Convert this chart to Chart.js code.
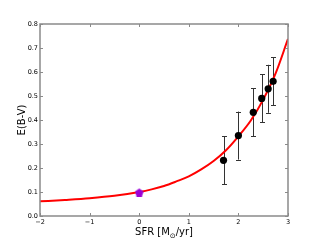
<!DOCTYPE html>
<html>
<head>
<meta charset="utf-8">
<script src="https://cdn.jsdelivr.net/npm/chart.js@4"></script>
<style>
  html, body { margin: 0; padding: 0; background: #fff; }
  #wrap { width: 320px; height: 240px; }
</style>
</head>
<body>
<div id="wrap"><canvas id="chart" width="320" height="240"></canvas></div>
<script>
// measured points
const sfr = [1.70, 2.00, 2.30, 2.47, 2.60, 2.70];
const ebv = [0.232, 0.335, 0.432, 0.490, 0.530, 0.561];
const ebvErr = [0.10, 0.10, 0.10, 0.10, 0.10, 0.10];

// reference point
const refSfr = [0.0];
const refEbv = [0.10];

// red curve
const curveSfr = [-2.0, -1.5, -1.0, -0.5, 0.0, 0.25, 0.5, 0.75, 1.0, 1.25, 1.5, 1.75, 2.0, 2.25, 2.5, 2.75, 3.0];
const curveEbv = [0.061, 0.067, 0.074, 0.084, 0.100, 0.111, 0.125, 0.144, 0.165, 0.194, 0.229, 0.274, 0.332, 0.398, 0.485, 0.594, 0.738];

const xTicks = [-2, -1, 0, 1, 2, 3];
const yTicks = [0.0, 0.1, 0.2, 0.3, 0.4, 0.5, 0.6, 0.7, 0.8];

const xTitle = ['SFR [M', '\u2299', '/yr]'];
const yTitle = 'E(B-V)';
const FONT = '"DejaVu Sans", sans-serif';

// pentagon marker for the reference point
function pentagon(size, color) {
  const c = document.createElement('canvas');
  c.width = size; c.height = size;
  const g = c.getContext('2d');
  const r = size / 2;
  g.beginPath();
  for (let i = 0; i < 5; i++) {
    const a = -Math.PI / 2 + i * 2 * Math.PI / 5;
    const px = r + r * Math.cos(a), py = r + 1 + r * Math.sin(a);
    i ? g.lineTo(px, py) : g.moveTo(px, py);
  }
  g.closePath();
  g.fillStyle = color;
  g.fill();
  return c;
}

const frame = {
  id: 'frame',
  beforeDatasetsDraw(chart) {
    // error bars under the markers
    const { ctx, scales: { x, y } } = chart;
    ctx.save();
    ctx.strokeStyle = '#333';
    ctx.lineWidth = 1;
    sfr.forEach((v, i) => {
      const px = Math.round(x.getPixelForValue(v)) + 0.5;
      const lo = y.getPixelForValue(ebv[i] - ebvErr[i]);
      const hi = y.getPixelForValue(ebv[i] + ebvErr[i]);
      ctx.beginPath();
      ctx.moveTo(px, lo); ctx.lineTo(px, hi);
      ctx.moveTo(px - 2.5, Math.round(lo) + 0.5); ctx.lineTo(px + 2.5, Math.round(lo) + 0.5);
      ctx.moveTo(px - 2.5, Math.round(hi) + 0.5); ctx.lineTo(px + 2.5, Math.round(hi) + 0.5);
      ctx.stroke();
    });
    ctx.restore();
  },
  afterDraw(chart) {
    const { ctx, chartArea: a, scales: { x, y } } = chart;
    ctx.save();
    ctx.strokeStyle = '#8a8a8a';
    ctx.lineWidth = 1;
    // ticks pointing inward on all four sides
    ctx.beginPath();
    xTicks.forEach(v => {
      const px = Math.round(x.getPixelForValue(v)) + 0.5;
      ctx.moveTo(px, a.bottom); ctx.lineTo(px, a.bottom - 3);
      ctx.moveTo(px, a.top); ctx.lineTo(px, a.top + 3);
    });
    yTicks.forEach(v => {
      const py = Math.round(y.getPixelForValue(v)) + 0.5;
      ctx.moveTo(a.left, py); ctx.lineTo(a.left + 3, py);
      ctx.moveTo(a.right, py); ctx.lineTo(a.right - 3, py);
    });
    ctx.stroke();
    ctx.lineWidth = 1.5;
    ctx.strokeRect(a.left, a.top, a.right - a.left, a.bottom - a.top);

    // axis titles
    ctx.fillStyle = '#000';
    ctx.font = '10px ' + FONT;
    const w0 = ctx.measureText(xTitle[0]).width;
    const w2 = ctx.measureText(xTitle[2]).width;
    ctx.font = '7px ' + FONT;
    const w1 = ctx.measureText(xTitle[1]).width;
    let tx = (a.left + a.right) / 2 - (w0 + w1 + w2) / 2;
    ctx.textBaseline = 'alphabetic';
    ctx.textAlign = 'left';
    ctx.font = '10px ' + FONT;
    ctx.fillText(xTitle[0], tx, 235);
    ctx.font = '7px ' + FONT;
    ctx.fillText(xTitle[1], tx + w0, 238);
    ctx.font = '10px ' + FONT;
    ctx.fillText(xTitle[2], tx + w0 + w1, 235);

    ctx.translate(22, (a.top + a.bottom) / 2);
    ctx.rotate(-Math.PI / 2);
    ctx.textAlign = 'center';
    ctx.textBaseline = 'middle';
    ctx.fillText(yTitle, 0, 0);
    ctx.restore();
  }
};

new Chart(document.getElementById('chart'), {
  type: 'scatter',
  data: {
    datasets: [
      {
        label: 'fit',
        type: 'line',
        data: curveSfr.map((v, i) => ({ x: v, y: curveEbv[i] })),
        borderColor: '#ff0000',
        borderWidth: 2,
        pointRadius: 0,
        cubicInterpolationMode: 'monotone',
        fill: false,
        order: 3
      },
      {
        label: 'SFR',
        data: sfr.map((v, i) => ({ x: v, y: ebv[i] })),
        backgroundColor: '#000',
        borderColor: '#000',
        borderWidth: 0,
        pointRadius: 3.6,
        order: 1
      },
      {
        label: 'ref',
        data: refSfr.map((v, i) => ({ x: v, y: refEbv[i] })),
        pointStyle: pentagon(9, '#9a00d6'),
        order: 2
      }
    ]
  },
  options: {
    responsive: false,
    animation: false,
    events: [],
    layout: { padding: { left: 0, right: 32, top: 24, bottom: 0 } },
    plugins: { legend: { display: false }, tooltip: { enabled: false } },
    scales: {
      x: {
        type: 'linear', min: -2, max: 3,
        afterBuildTicks: s => { s.ticks = xTicks.map(v => ({ value: v })); },
        afterFit: s => { s.height = 24; },
        grid: { display: false, drawTicks: false },
        border: { display: false },
        ticks: {
          padding: 2,
          color: '#000',
          font: { family: FONT, size: 6.5 },
          callback: v => String(v).replace('-', '\u2212')
        }
      },
      y: {
        type: 'linear', min: 0, max: 0.8,
        afterBuildTicks: s => { s.ticks = yTicks.map(v => ({ value: v })); },
        afterFit: s => { s.width = 40; },
        grid: { display: false, drawTicks: false },
        border: { display: false },
        ticks: {
          padding: 2,
          color: '#000',
          font: { family: FONT, size: 6.5 },
          callback: v => v.toFixed(1)
        }
      }
    }
  },
  plugins: [frame]
});
</script>
</body>
</html>
